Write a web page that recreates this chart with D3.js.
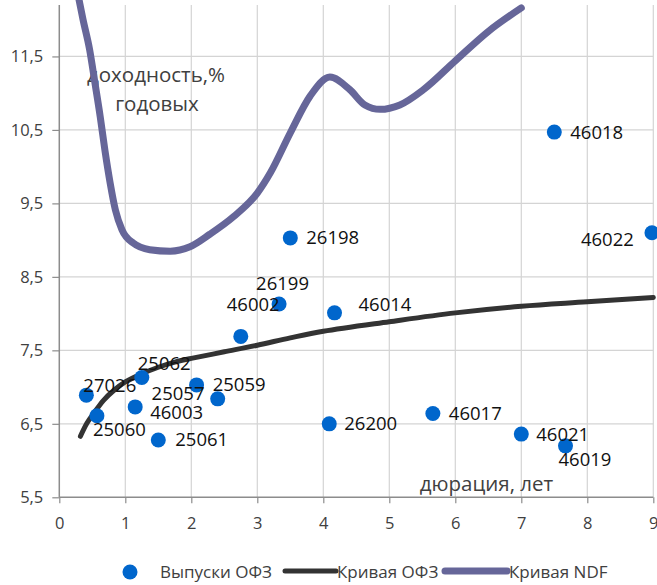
<!DOCTYPE html>
<html><head><meta charset="utf-8">
<script src="https://cdn.jsdelivr.net/npm/d3@7"></script>
<style>
html,body{margin:0;padding:0;background:#fff;}
svg{display:block;font-family:"Open Sans",sans-serif;}
</style></head>
<body>
<svg id="chart" width="657" height="585"></svg>
<script>
// ---- data ----
const bondNames = ["27026","25060","46003","25062","25061","25057","25059","46002","26199","26198","46014","26200","46017","46021","46019","46018","46022"];
const bondDuration = [0.41,0.57,1.15,1.25,1.50,2.08,2.40,2.75,3.33,3.50,4.17,4.09,5.66,7.00,7.67,7.50,8.98];
const bondYield = [6.89,6.61,6.73,7.13,6.28,7.03,6.84,7.69,8.13,9.03,8.01,6.50,6.64,6.36,6.20,10.47,9.10];

const ofzCurveX = [0.32,0.42,0.52,0.67,0.82,1.0,1.25,1.5,1.75,2.0,2.5,3.0,3.5,4.0,5.0,6.0,7.0,8.0,9.0];
const ofzCurveY = [6.33,6.51,6.64,6.82,6.95,7.07,7.18,7.27,7.34,7.39,7.48,7.57,7.67,7.76,7.89,8.01,8.10,8.16,8.22];

const ndfCurveX = [0.27,0.36,0.46,0.54,0.62,0.69,0.77,0.85,0.95,1.12,1.37,1.68,1.98,2.28,2.64,3.0,3.2,3.5,3.8,4.1,4.4,4.63,4.86,5.16,5.52,6.0,6.5,7.0];
const ndfCurveY = [12.40,12.00,11.59,11.14,10.68,10.23,9.78,9.41,9.14,8.96,8.87,8.85,8.91,9.08,9.32,9.64,9.92,10.46,10.96,11.22,11.05,10.84,10.78,10.84,11.05,11.44,11.84,12.16];

const xTicks = [0,1,2,3,4,5,6,7,8,9];
const yTicks = [5.5,6.5,7.5,8.5,9.5,10.5,11.5];
const yTickLabels = ["5,5","6,5","7,5","8,5","9,5","10,5","11,5"];

const legendLabels = ["Выпуски ОФЗ","Кривая ОФЗ","Кривая NDF"];

// label placement (pixel offsets of label start/center from the point)
const labelDx = [-3,-4,15,-4,17,-45,-5,-14,-23,16,24,15,16,15,-7,16,-71];
const labelDy = [-10,14,6,-14,0,9,-14,-32,-21,0,-8,0,0,0,14,0,7];

// ---- layout ----
const svg = d3.select("#chart");
const L = 59.3, R = 653.3, T = 5, B = 497.3;
const x = d3.scaleLinear().domain([0,9]).range([L,R]);
const y = d3.scaleLinear().domain([5.5,12.2]).range([B,T]);

const dotColor = "#0066cc", ofzColor = "#333333", ndfColor = "#666699";
const gridColor = "#d4d4d4", axisColor = "#8c8c8c", tickText = "#404040";

// gridlines
svg.append("g").selectAll("line.h").data(yTicks.slice(1)).join("line")
  .attr("x1",L).attr("x2",R).attr("y1",d=>y(d)).attr("y2",d=>y(d))
  .attr("stroke",gridColor).attr("stroke-width",1.2);
svg.append("g").selectAll("line.v").data(xTicks.slice(1)).join("line")
  .attr("x1",d=>x(d)).attr("x2",d=>x(d)).attr("y1",T).attr("y2",B)
  .attr("stroke",gridColor).attr("stroke-width",1.2);

// axes
const xAxis = d3.axisBottom(x).tickValues(xTicks).tickSize(6).tickPadding(14).tickFormat(d3.format("d"));
const gx = svg.append("g").attr("transform",`translate(0,${B})`).call(xAxis);
const yAxis = d3.axisLeft(y).tickValues(yTicks).tickSize(7).tickPadding(9).tickFormat((d,i)=>yTickLabels[i]);
const gy = svg.append("g").attr("transform",`translate(${L},0)`).call(yAxis);
[gx,gy].forEach(g=>{
  g.select(".domain").attr("stroke",axisColor).attr("stroke-width",1.5);
  g.selectAll(".tick line").attr("stroke",axisColor).attr("stroke-width",1.2);
  g.selectAll(".tick text").attr("fill",tickText).attr("font-size","16.5px").attr("font-family","Open Sans, sans-serif");
});
gy.select(".domain").attr("d",`M0,${T}V${B}`);
gx.select(".domain").attr("d",`M${L},0H${R}`);

// axis titles
svg.append("text").attr("x",156).attr("y",82).attr("text-anchor","middle")
  .attr("font-size","20.5px").attr("fill","#404040").text("доходность,%");
svg.append("text").attr("x",157).attr("y",110.5).attr("text-anchor","middle")
  .attr("font-size","20.5px").attr("fill","#404040").text("годовых");
svg.append("text").attr("x",486.5).attr("y",491).attr("text-anchor","middle")
  .attr("font-size","20.5px").attr("fill","#404040").text("дюрация, лет");

// curves
const ofzData = ofzCurveX.map((d,i)=>[d,ofzCurveY[i]]);
const ndfData = ndfCurveX.map((d,i)=>[d,ndfCurveY[i]]);
const lineOfz = d3.line().x(d=>x(d[0])).y(d=>y(d[1])).curve(d3.curveCatmullRom.alpha(0.5));
const lineNdf = d3.line().x(d=>x(d[0])).y(d=>y(d[1])).curve(d3.curveMonotoneX);

svg.append("path").datum(ndfData).attr("d",lineNdf).attr("fill","none")
  .attr("stroke",ndfColor).attr("stroke-width",7).attr("stroke-linecap","round").attr("stroke-linejoin","round");
svg.append("path").datum(ofzData).attr("d",lineOfz).attr("fill","none")
  .attr("stroke",ofzColor).attr("stroke-width",5).attr("stroke-linecap","round").attr("stroke-linejoin","round");

// points
svg.append("g").selectAll("circle").data(bondNames).join("circle")
  .attr("cx",(d,i)=>x(bondDuration[i])).attr("cy",(d,i)=>y(bondYield[i]))
  .attr("r",7.5).attr("fill",dotColor);

// labels
svg.append("g").selectAll("text").data(bondNames).join("text")
  .attr("x",(d,i)=>x(bondDuration[i])+labelDx[i])
  .attr("y",(d,i)=>y(bondYield[i])+labelDy[i])
  .attr("dy","0.35em").attr("font-size","18.5px").attr("fill","#111")
  .text(d=>d);

// legend
const lg = svg.append("g").attr("font-size","17px").attr("fill","#404040");
lg.append("circle").attr("cx",130).attr("cy",572).attr("r",7.5).attr("fill",dotColor);
lg.append("text").attr("x",160).attr("y",572).attr("dy","0.35em").text(legendLabels[0]);
lg.append("line").attr("x1",285).attr("x2",336).attr("y1",571).attr("y2",571)
  .attr("stroke",ofzColor).attr("stroke-width",5).attr("stroke-linecap","round");
lg.append("text").attr("x",337).attr("y",572).attr("dy","0.35em").text(legendLabels[1]);
lg.append("line").attr("x1",445).attr("x2",507).attr("y1",571).attr("y2",571)
  .attr("stroke",ndfColor).attr("stroke-width",7).attr("stroke-linecap","round");
lg.append("text").attr("x",509).attr("y",572).attr("dy","0.35em").text(legendLabels[2]);
</script>
</body></html>
